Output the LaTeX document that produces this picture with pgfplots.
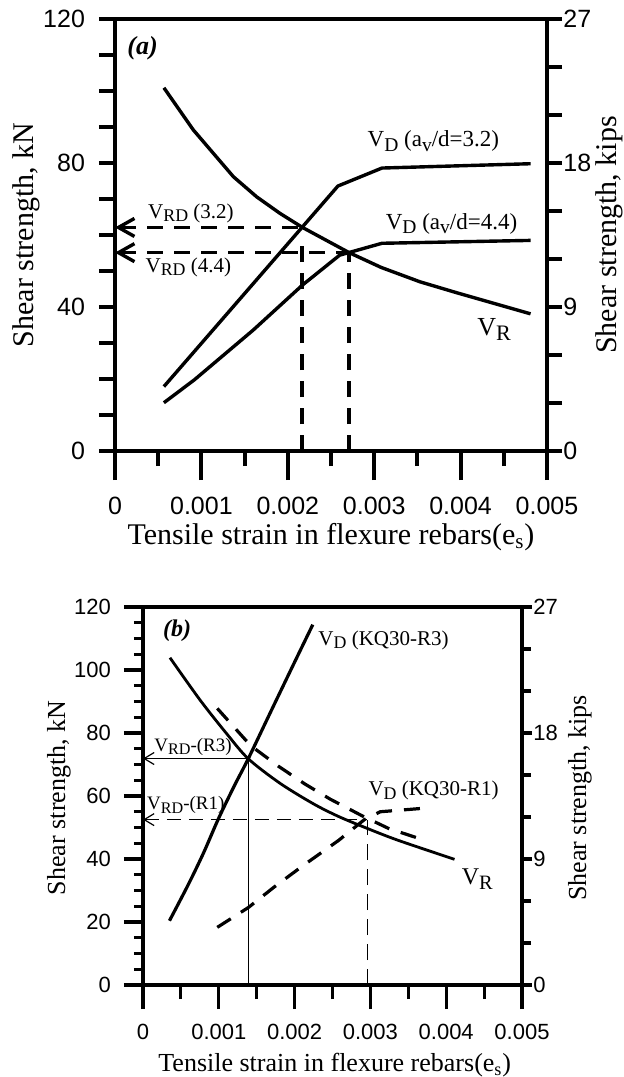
\documentclass[border=0pt]{standalone}
\usepackage{pgfplots}
\pgfplotsset{compat=1.18}
\usetikzlibrary{arrows.meta}
\usepackage{fontspec}
\setmainfont{Liberation Serif}
\newfontfamily\arial{Liberation Sans}
\newcommand{\sub}[1]{\raisebox{-0.4ex}{\scalebox{0.85}{#1}}}

\pgfplotsset{
  panel/.style={scale only axis, xmin=0, xmax=0.005, clip=false,
    tick align=outside, anchor=south west, scaled x ticks=false},
  ticka/.style={tick style={line width=2pt, black}, axis line style={line width=2pt},
    tick label style={font=\arial\fontsize{12.5}{14}\selectfont},
    /pgf/number format/assume math mode=true},
  tickb/.style={tick style={line width=1.6pt, black}, axis line style={line width=1.6pt},
    tick label style={font=\arial\fontsize{11}{13}\selectfont},
    /pgf/number format/assume math mode=true},
}

\begin{document}
\begin{tikzpicture}
\useasboundingbox (-57.5pt,-313pt) rectangle (254pt,225.5pt);

%% ---------------- panel (a) ----------------
% x ticks
\begin{axis}[panel, ticka, width=216pt, height=216pt, at={(0,0)}, ymin=0, ymax=120,
  axis x line*=bottom, axis y line=none,
  xtick={0,0.001,0.002,0.003,0.004,0.005},
  xticklabels={0,0.001,0.002,0.003,0.004,0.005},
  minor xtick={0.0005,0.0015,0.0025,0.0035,0.0045},
  major tick length=14.5pt, minor tick length=7.5pt,
  xticklabel style={yshift=-5pt},
  xlabel={Tensile strain in flexure rebars(e\textsubscript{s})},
  xlabel style={at={(axis description cs:0.5,-0.199)}, anchor=center, font=\fontsize{15}{17}\selectfont}]
\end{axis}

% right axis (kips)
\begin{axis}[panel, ticka, width=216pt, height=216pt, at={(0,0)}, ymin=0, ymax=27,
  axis y line*=right, axis x line=none,
  ytick={0,9,18,27}, minor ytick={3,6,12,15,21,24},
  major tick length=7.5pt, minor tick length=7.5pt,
  yticklabel style={inner sep=0.5pt},
  ylabel={Shear strength, kips},
  ylabel style={at={(axis description cs:1.144,0.5)}, anchor=center, font=\fontsize{15}{17}\selectfont}]
\end{axis}

% main axis (kN) with curves
\begin{axis}[panel, ticka, width=216pt, height=216pt, at={(0,0)}, ymin=0, ymax=120,
  xtick=\empty, ytick={0,40,80,120}, minor ytick={10,20,30,50,60,70,90,100,110},
  ytick pos=left, major tick length=8pt, minor tick length=8pt,
  yticklabel style={xshift=-3.5pt},
  ylabel={Shear strength, kN},
  ylabel style={at={(axis description cs:-0.206,0.5)}, anchor=center, font=\fontsize{15}{17}\selectfont}]

% V_R
\addplot[black, line width=1.7pt] coordinates {
  (0.000566,100.9) (0.000906,89.2) (0.00137,76.2) (0.00164,70.6) (0.00191,66.0)
  (0.00217,62.1) (0.00271,55.1) (0.00308,51.0) (0.00353,47.0) (0.00395,44.0) (0.00481,38.1)};
% V_D (av/d=3.2)
\addplot[black, line width=1.7pt] coordinates {
  (0.000566,17.9) (0.00258,73.6) (0.00309,78.6) (0.00481,79.8)};
% V_D (av/d=4.4)
\addplot[black, line width=1.7pt] coordinates {
  (0.000566,13.4) (0.00092,19.8) (0.0016,33.6) (0.00217,46.1) (0.0026,54.4)
  (0.00309,57.7) (0.00481,58.5)};

% V_RD reference lines
\addplot[black, line width=1.7pt, dash pattern=on 8pt off 5.5pt,
  {Straight Barb[length=8pt, width=9pt]}-] coordinates {(0,62.1) (0.00217,62.1)};
\addplot[black, line width=1.7pt, dash pattern=on 8pt off 5.5pt,
  {Straight Barb[length=8pt, width=9pt]}-] coordinates {(0,55.1) (0.00271,55.1)};
\addplot[black, line width=1.7pt, dash pattern=on 8pt off 5.5pt] coordinates {(0.002164,0) (0.002164,58)};
\addplot[black, line width=1.7pt, dash pattern=on 8pt off 5.5pt] coordinates {(0.002708,0) (0.002708,55.1)};

\node[anchor=west, font=\fontsize{13}{15}\selectfont\bfseries\itshape, inner sep=0] at (axis cs:0.00014,111.9) {(a)};
\node[anchor=west, font=\fontsize{11.5}{13}\selectfont, inner sep=0] at (axis cs:0.00292,86) {V\sub{D} (a\sub{v}/d=3.2)};
\node[anchor=west, font=\fontsize{11.5}{13}\selectfont, inner sep=0] at (axis cs:0.00313,63) {V\sub{D} (a\sub{v}/d=4.4)};
\node[anchor=west, font=\fontsize{10.5}{12}\selectfont, inner sep=0] at (axis cs:0.00038,66.1) {V\sub{RD} (3.2)};
\node[anchor=west, font=\fontsize{10.5}{12}\selectfont, inner sep=0] at (axis cs:0.00035,51.1) {V\sub{RD} (4.4)};
\node[anchor=west, font=\fontsize{13}{15}\selectfont, inner sep=0] at (axis cs:0.00419,33.7) {V\sub{R}};
\end{axis}

%% ---------------- panel (b) ----------------
\begin{axis}[panel, tickb, width=189.5pt, height=189pt, at={(14pt,-267pt)}, ymin=0, ymax=120,
  axis x line*=bottom, axis y line=none,
  xtick={0,0.001,0.002,0.003,0.004,0.005},
  xticklabels={0,0.001,0.002,0.003,0.004,0.005},
  minor xtick={0.0005,0.0015,0.0025,0.0035,0.0045},
  major tick length=12pt, minor tick length=7pt,
  xticklabel style={yshift=-4pt},
  xlabel={Tensile strain in flexure rebars(e\textsubscript{s})},
  xlabel style={at={(axis description cs:0.506,-0.212)}, anchor=center, font=\fontsize{13}{15}\selectfont}]
\end{axis}

\begin{axis}[panel, tickb, width=189.5pt, height=189pt, at={(14pt,-267pt)}, ymin=0, ymax=27,
  axis y line*=right, axis x line=none,
  ytick={0,9,18,27}, minor ytick={3,6,12,15,21,24},
  major tick length=5pt, minor tick length=4.5pt,
  yticklabel style={inner sep=0.5pt},
  ylabel={Shear strength, kips},
  ylabel style={at={(axis description cs:1.153,0.495)}, anchor=center, font=\fontsize{13}{15}\selectfont}]
\end{axis}

\begin{axis}[panel, tickb, width=189.5pt, height=189pt, at={(14pt,-267pt)}, ymin=0, ymax=120,
  xtick=\empty, ytick={0,20,40,60,80,100,120},
  minor ytick={5,10,15,25,30,35,45,50,55,65,70,75,85,90,95,105,110,115},
  ytick pos=left, major tick length=9.5pt, minor tick length=4.5pt,
  yticklabel style={xshift=-3pt},
  ylabel={Shear strength, kN},
  ylabel style={at={(axis description cs:-0.222,0.495)}, anchor=center, font=\fontsize{13}{15}\selectfont}]

% V_R
\addplot[black, line width=1.4pt, smooth] coordinates {
  (0.000356,103.9) (0.000752,90.5) (0.0011,79.9) (0.00139,71.8) (0.00181,64.0)
  (0.00225,57.5) (0.00258,53.5) (0.00296,49.7) (0.00337,45.9) (0.00411,39.9)};
% V_D (KQ30-R3)
\addplot[black, line width=1.6pt, smooth] coordinates {
  (0.000349,20.4) (0.0006,32) (0.0008,42) (0.00099,52.5) (0.0012,63)
  (0.00139,71.9) (0.0017,87.5) (0.002,102.5) (0.00224,114.4)};
% V_D (KQ30-R1)
\addplot[black, line width=1.6pt, dash pattern=on 8pt off 6pt] coordinates {
  (0.00098,18.3) (0.00139,24.6) (0.00173,31.1) (0.0021,37.7) (0.00258,45.9)
  (0.00292,52.5) (0.00313,55.0) (0.0038,56.3)};
% dashed upper curve
\addplot[black, line width=1.6pt, dash pattern=on 8pt off 6pt] coordinates {
  (0.00098,87.8) (0.00142,76.0) (0.00179,69.4) (0.00213,63.9) (0.00247,59.0)
  (0.0029,53.6) (0.00324,49.7) (0.00372,45.9)};

% V_RD reference lines
\addplot[black, line width=0.6pt, {Straight Barb[length=5pt, width=6pt]}-] coordinates {(0,71.9) (0.00139,71.9)};
\addplot[black, line width=0.6pt] coordinates {(0.00139,0) (0.00139,71.9)};
\addplot[black, line width=0.6pt, dash pattern=on 7pt off 4pt,
  {Straight Barb[length=5pt, width=6pt]}-] coordinates {(0,52.5) (0.00296,52.5)};
\addplot[black, line width=0.6pt, dash pattern=on 8pt off 4.5pt] coordinates {(0.00296,0) (0.00296,52.5)};

\node[anchor=west, font=\fontsize{12}{14}\selectfont\bfseries\itshape, inner sep=0] at (axis cs:0.00026,112.4) {(b)};
\node[anchor=west, font=\fontsize{10.5}{12}\selectfont, inner sep=0] at (axis cs:0.00231,109.5) {V\sub{D} (KQ30-R3)};
\node[anchor=west, font=\fontsize{10.5}{12}\selectfont, inner sep=0] at (axis cs:0.00297,61.7) {V\sub{D} (KQ30-R1)};
\node[anchor=west, font=\fontsize{9.5}{11}\selectfont, inner sep=0] at (axis cs:0.000145,75.7) {V\sub{RD}-(R3)};
\node[anchor=west, font=\fontsize{9.5}{11}\selectfont, inner sep=0] at (axis cs:0.00005,57.1) {V\sub{RD}-(R1)};
\node[anchor=west, font=\fontsize{12}{14}\selectfont, inner sep=0] at (axis cs:0.0042,33.6) {V\sub{R}};
\end{axis}
\end{tikzpicture}
\end{document}
